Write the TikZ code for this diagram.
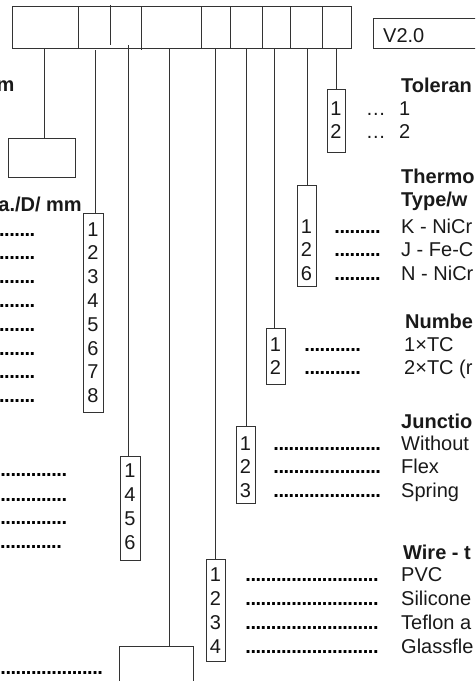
\documentclass[tikz,border=0pt]{standalone}
\usepackage{fontspec}
\setmainfont{Liberation Sans}
\newcommand\leaderrow[1]{\foreach \k in {1,...,#1}{\makebox[5.1pt][l]{.}}}
\begin{document}
\begin{tikzpicture}[x=1pt,y=-1pt,
  ln/.style={draw=black!80,line width=0.9pt},
  boxs/.style={draw=black!80,line width=0.9pt,inner sep=0pt,anchor=north west},
  txt/.style={font=\fontsize{20}{24}\selectfont,text=black!90,inner sep=0pt,anchor=base west},
  hdr/.style={txt,font=\fontsize{20}{24}\selectfont\bfseries},
  dig/.style={txt,anchor=base},
  dts/.style={txt,text=black,font=\fontsize{20}{24}\selectfont\bfseries}]
\clip (0,0) rectangle (475,681);
\useasboundingbox (0,0) rectangle (475,681);
% top code row
\node[boxs,minimum width=339pt,minimum height=42pt] (top) at (12,6) {};
\foreach \x in {78,201,230,262,290,322} \draw[ln] (\x,6) -- (\x,48);
\draw[ln] (110,5) -- (110,45);
\draw[ln] (141,7) -- (141,50);
% version box
\node[boxs,minimum width=130pt,minimum height=30pt] (ver) at (373,18) {};
\node[txt] (vert) at (383,42) {V2.0};
% option boxes
\node[boxs,minimum width=67pt,minimum height=39pt] (lbox) at (8,138) {};
\node[boxs,minimum width=20pt,minimum height=199pt] (dia) at (83,213) {};
\node[boxs,minimum width=20pt,minimum height=104pt] (bfs) at (120,456) {};
\node[boxs,minimum width=74pt,minimum height=60pt] (bot) at (119,646) {};
\node[boxs,minimum width=19pt,minimum height=102pt] (wir) at (206,559) {};
\node[boxs,minimum width=19pt,minimum height=77pt] (jun) at (236,426) {};
\node[boxs,minimum width=19pt,minimum height=56pt] (num) at (266,328) {};
\node[boxs,minimum width=19pt,minimum height=101pt] (thr) at (297,185) {};
\node[boxs,minimum width=18pt,minimum height=63pt] (tol) at (327,89) {};
% connectors
\coordinate (c1) at (44,48);  \draw[ln] (c1) -- (c1 |- lbox.north);
\coordinate (c2) at (95,50);  \draw[ln] (c2) -- (c2 |- dia.north);
\coordinate (c3) at (128,45); \draw[ln] (c3) -- (c3 |- bfs.north);
\coordinate (c4) at (169,48); \draw[ln] (c4) -- (c4 |- bot.north);
\coordinate (c5) at (215,48); \draw[ln] (c5) -- (c5 |- wir.north);
\coordinate (c6) at (246,48); \draw[ln] (c6) -- (c6 |- jun.north);
\coordinate (c7) at (274,48); \draw[ln] (c7) -- (c7 |- num.north);
\coordinate (c8) at (307,48); \draw[ln] (c8) -- (c8 |- thr.north);
\coordinate (c9) at (336,48); \draw[ln] (c9) -- (c9 |- tol.north);
% left headers
\node[hdr,anchor=base east] (hm) at (14.5,91) {m};
\node[hdr,anchor=base east] (hd) at (82,211) {a./D/ mm};
% diameter list
\foreach \d/\y [count=\i] in {1/236,2/259,3/283,4/307,5/331,6/355,7/378,8/402}{
  \node[dig] (dd\i) at (93,\y) {\d};
  \node[dts] (dl\i) at (-1.1,\y) {\leaderrow{7}};
}
% 1456 list
\foreach \d/\y [count=\i] in {1/477,4/501,5/525,6/549}{
  \node[dig] (fd\i) at (130,\y) {\d};
}
\node[dts] (fl1) at (0.1,476) {\leaderrow{13}};
\node[dts] (fl2) at (0.1,501) {\leaderrow{13}};
\node[dts] (fl3) at (0.1,524) {\leaderrow{13}};
\node[dts] (fl4) at (0,548) {\leaderrow{12}};
\node[dts] (bl1) at (0.2,674) {\leaderrow{20}};
% tolerance
\node[hdr] (th) at (401,92) {Toleran};
\foreach \d/\y [count=\i] in {1/115,2/138}{
  \node[dig] (td\i) at (336,\y) {\d};
  \node[txt] (tl\i) at (365.7,\y) {…};
  \node[txt] (tt\i) at (399,\y) {\d};
}
% thermocouple
\node[hdr] (hh1) at (401,183) {Thermo};
\node[hdr] (hh2) at (401,206) {Type/w};
\foreach \d/\y/\t [count=\i] in {1/233/K - NiCr,2/256/J - Fe-C,6/280/N - NiCr}{
  \node[dig] (hd\i) at (306.5,\y) {\d};
  \node[dts] (hl\i) at (334.2,\y) {\leaderrow{9}};
  \node[txt] (ht\i) at (401,\y) {\t};
}
% number
\node[hdr] (nh) at (405,328) {Numbe};
\foreach \d/\y/\t [count=\i] in {1/351/1×TC,2/374/2×TC (r}{
  \node[dig] (nd\i) at (275.5,\y) {\d};
  \node[dts] (nl\i) at (304.2,\y) {\leaderrow{11}};
  \node[txt] (nt\i) at (404,\y) {\t};
}
% junction
\node[hdr] (jh) at (401,428) {Junctio};
\foreach \d/\y/\t [count=\i] in {1/450/Without,2/473/Flex,3/497/Spring}{
  \node[dig] (jd\i) at (245.5,\y) {\d};
  \node[dts] (jl\i) at (273.2,\y) {\leaderrow{21}};
  \node[txt] (jt\i) at (401,\y) {\t};
}
% wire
\node[hdr] (wh) at (403,559) {Wire - t};
\foreach \d/\y/\t [count=\i] in {1/581/PVC,2/605/Silicone,3/629/Teflon a,4/653/Glassfle}{
  \node[dig] (wd\i) at (215.5,\y) {\d};
  \node[dts] (wl\i) at (245.2,\y) {\leaderrow{26}};
  \node[txt] (wt\i) at (401,\y) {\t};
}
\end{tikzpicture}
\end{document}
